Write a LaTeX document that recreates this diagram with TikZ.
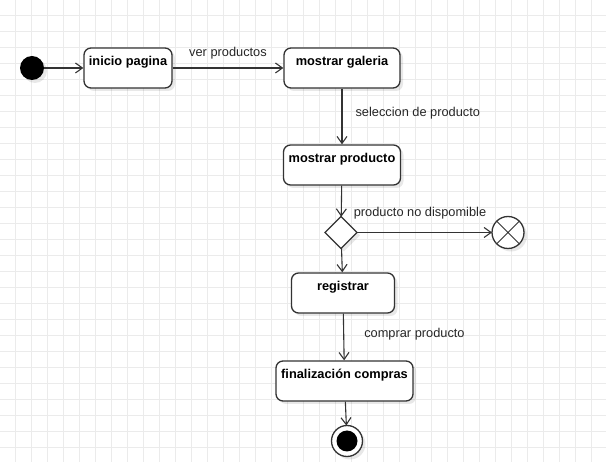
\documentclass[tikz,border=0pt]{standalone}
\usepackage{fontspec}
\setmainfont{Liberation Sans}
\usetikzlibrary{arrows.meta,shapes.geometric,shadows}
\begin{document}
\begin{tikzpicture}[x=1pt,y=-1pt,line width=1.3pt,
  softshadow/.style={drop shadow={shadow xshift=3pt,shadow yshift=-3pt,fill=black,opacity=0.09}},
  activity/.style={draw=black!80,fill=white,rounded corners=7pt,inner xsep=0pt,inner ysep=0pt,minimum height=40pt,text height=17.5pt,text depth=22.5pt,font=\fontsize{12.8}{15}\selectfont\bfseries,softshadow},
  startdot/.style={circle,fill=black,minimum size=24pt,inner sep=0pt,outer sep=0pt,softshadow},
  choice/.style={diamond,draw=black!80,fill=white,minimum width=32pt,minimum height=32pt,inner sep=0pt,outer sep=0pt,softshadow},
  flowend/.style={circle,draw=black!80,fill=white,minimum size=32pt,inner sep=0pt,outer sep=0pt,softshadow},
  finalnode/.style={circle,draw=black!80,fill=white,minimum size=31pt,inner sep=0pt,outer sep=0pt,softshadow,
    path picture={\fill[black] (path picture bounding box.center) circle (10.5pt);}},
  trans/.style={draw=black!80,line width=1.1pt,-{Straight Barb[length=7pt,width=10pt]}},
  lbl/.style={font=\fontsize{12.8}{15}\selectfont,text=black!85,inner sep=0pt},
  gridline/.style={draw=black!8,line width=1pt}]
\useasboundingbox (0,0) rectangle (606,462);
\foreach \gx in {15.5,31.5,...,606} \draw[gridline] (\gx,0) -- (\gx,462);
\foreach \gy in {15.5,31.5,...,462} \draw[gridline] (0,\gy) -- (606,\gy);
\node[startdot] (inicial) at (32,68) {};
\node[activity,minimum width=88pt] (inicio) at (128,68) {inicio pagina};
\node[activity,minimum width=116pt] (galeria) at (342,68) {mostrar galeria};
\node[activity,minimum width=117pt] (producto) at (342,165) {mostrar producto};
\node[choice] (decision) at (341,232.5) {};
\node[flowend] (cancelado) at (508,232.5) {};
\node[activity,minimum width=103pt] (registrar) at (343,293) {registrar};
\node[activity,minimum width=137pt] (finalizacion) at (344.5,381) {finalización compras};
\node[finalnode] (fin) at (347,441) {};
\draw[draw=black!80,line width=1pt] (cancelado.north east) -- (cancelado.south west) (cancelado.north west) -- (cancelado.south east);
\draw[trans] (inicial) -- (inicio);
\draw[trans] (inicio) -- node[lbl,yshift=15pt] {ver productos} (galeria);
\draw[trans] (galeria) -- node[lbl,anchor=west,xshift=13pt,yshift=3.5pt] {seleccion de producto} (producto);
\draw[trans] (producto) -- (decision);
\draw[trans] (decision) -- node[lbl,xshift=-4.5pt,yshift=19.5pt] {producto no dispomible} (cancelado);
\draw[trans] (decision) -- (registrar);
\draw[trans] (registrar) -- node[lbl,anchor=west,xshift=20pt,yshift=3pt] {comprar producto} (finalizacion);
\draw[trans] (finalizacion) -- (fin);
\end{tikzpicture}
\end{document}
